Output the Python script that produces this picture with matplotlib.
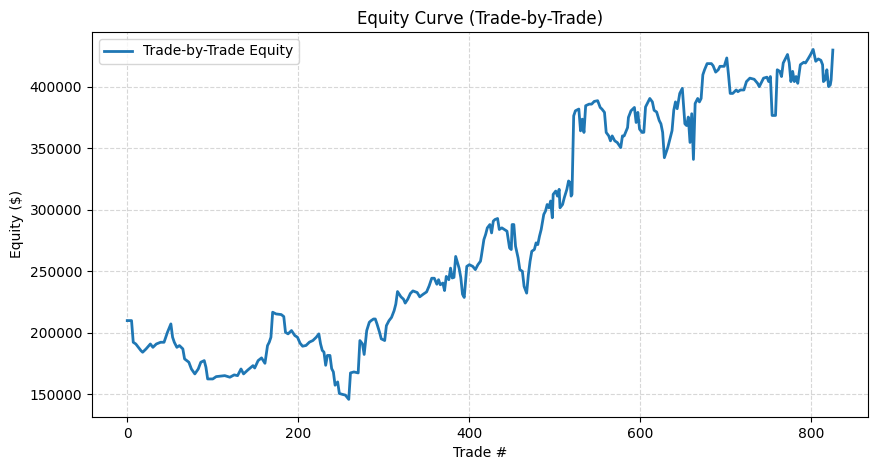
import matplotlib
matplotlib.use("Agg")
import matplotlib.pyplot as plt

trades = [0, 5, 7, 10, 16, 18, 22, 27, 30, 34, 39, 43, 47, 51, 53, 55, 58, 61, 65, 67,
          72, 75, 79, 83, 86, 90, 92, 94, 100, 104, 114, 120, 125, 129, 133, 136, 141, 147, 149, 153,
          157, 161, 164, 166, 168, 170, 174, 180, 183, 185, 188, 192, 196, 199,
          202, 205, 209, 213, 217, 221, 224, 226, 228, 230, 232, 234, 237, 239, 241, 243,
          246, 248, 252, 255, 259, 261, 265, 270, 272, 275, 277, 280, 283, 285, 288, 290,
          292, 295, 297, 301, 303, 306, 309, 312, 314, 316, 320, 323, 325, 328, 331, 334,
          339, 342, 346, 350, 353, 356, 359, 362, 364, 366, 369, 371, 373, 376, 378, 380,
          382, 384, 388, 390, 392, 394, 397,
          400, 404, 407, 410, 413, 414, 417, 419, 421, 424, 426, 428, 430, 433, 435, 438,
          441, 444, 447, 449, 450, 452, 454, 457, 459, 462, 464, 467, 469, 471, 473, 476,
          478, 480, 482, 484, 487, 489, 491, 493, 495, 497, 498, 501, 503, 505, 506, 509,
          511, 514, 516, 518, 519, 520, 522, 524, 528, 530, 532, 534, 536, 540, 543, 546,
          550, 553, 555, 558, 560, 563, 565, 567, 570, 573, 577, 579, 581, 585, 586, 589,
          593, 595, 597, 599,
          602, 604, 606, 611, 614, 616, 619, 622, 624, 626, 628, 632, 635, 637, 639, 641,
          643, 646, 649, 652, 654, 656, 658, 660, 662, 664, 667, 669, 671, 673, 675, 678,
          683, 685, 688, 691, 693, 698, 701, 703, 705, 708, 712, 714, 717, 721, 724, 728,
          733, 737, 739, 742, 744, 748, 750, 752, 754, 758, 760, 763, 765, 767, 770, 772,
          774, 776, 778, 780, 782, 784, 787, 791, 793, 796, 799, 802, 805, 808, 811, 813,
          814, 816, 818, 820, 822, 823, 825]

equity = [210000, 210000, 192400, 191000, 185600, 184300, 187000, 191000, 188300, 191000,
          192400, 192400, 200500, 207300, 196500, 192400, 188300, 189700, 187000, 178900,
          176200, 170700, 166700, 170700, 176200, 177500, 172100, 162600, 162600, 164500,
          165300, 164000, 165900, 165300, 170700, 166700, 169900, 173400, 171500, 177500,
          179700, 175300, 189700, 192400, 196500, 216800, 215400, 214900, 213300, 200500,
          199200, 201900, 197800, 196500,
          191700, 189200, 189800, 192500, 193800, 196500, 199200, 191100, 185800, 184400,
          173700, 181700, 181700, 171000, 168300, 157500, 160200, 150800, 150000, 149500,
          146000, 167500, 168300, 167500, 193800, 191100, 182500, 201900, 208600, 209900,
          211300, 211300, 207300, 200500, 195200, 193800, 205900, 209900, 212600, 218000,
          223400, 233600, 229300, 227400, 224200, 227400, 232000, 234100, 232800, 229300,
          231400, 233300, 238200, 244400, 244400, 239500, 243200, 239100, 240500, 234400,
          245900, 243200, 252600, 244600, 245100, 262100, 252600, 244900, 231400, 228800,
          254000,
          255400, 254000, 251400, 255400, 258200, 262200, 275800, 279900, 285300, 288000,
          281200, 290800, 292100, 292900, 284000, 285300, 284000, 282600, 269000, 267700,
          288000, 288000, 270400, 260900, 251400, 250000, 237800, 232300, 247300, 258200,
          266300, 267700, 273100, 271700, 278500, 284000, 296200, 298900, 304300, 301600,
          307100, 293500, 312500, 315200, 311100, 316600, 301600, 304300, 309800, 316600,
          323400, 322000, 311100, 312500, 376300, 380400, 381800, 364100, 373600, 362800,
          384500, 385800, 385800, 388000, 388600, 383100, 381800, 379100, 362800, 360000,
          356000, 360000, 356000, 354600, 350500, 360000, 360000, 366800, 375000, 380400,
          383100, 370900, 379100, 365500,
          362800, 362900, 383500, 390400, 387600, 380800, 379400, 372500, 369800, 362900,
          342300, 350600, 358800, 364300, 380800, 387600, 382100, 394500, 398600, 369800,
          368400, 375300, 354700, 378000, 340900, 386300, 390400, 387600, 390400, 409600,
          413700, 418700, 418700, 417000, 411800, 413700, 416500, 416500, 423300, 409600,
          394500, 394500, 397300, 395900, 397300, 397300, 404100, 406900, 406000, 402700,
          400000, 404100, 406900, 407700, 404100, 408200, 376600, 376600, 413700, 412400,
          408200, 419200, 423300, 426100, 419200, 404100, 412400, 404100, 408200, 402700,
          417800, 419800, 419200, 422500, 426100, 430200, 420600, 422500, 421400, 417800,
          404100, 405500, 413700, 400000, 401400, 405500, 429700]

fig = plt.figure(figsize=(8.76, 4.7), dpi=100)
ax = fig.add_subplot(111)
fig.subplots_adjust(left=0.105, right=0.991, top=0.932, bottom=0.113)

ax.plot(trades, equity, color="tab:blue", linewidth=2, label="Trade-by-Trade Equity")
ax.set_title("Equity Curve (Trade-by-Trade)")
ax.set_xlabel("Trade #")
ax.set_ylabel("Equity ($)")
ax.grid(True, linestyle="--", alpha=0.5)
ax.legend(loc="upper left")

fig.savefig("out.png", dpi=100)
